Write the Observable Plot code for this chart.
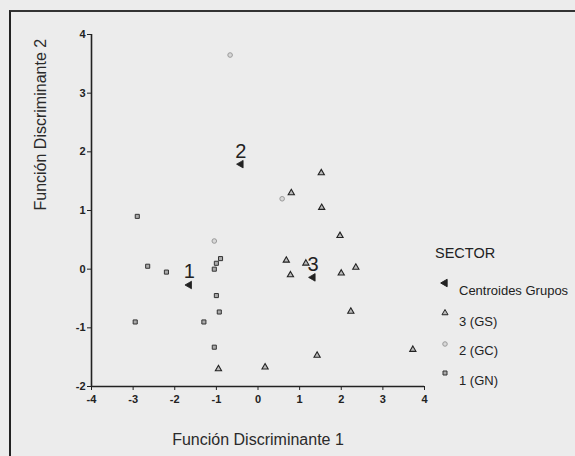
<!DOCTYPE html>
<html><head><meta charset="utf-8">
<script src="https://cdn.jsdelivr.net/npm/d3@7"></script>
<script src="https://cdn.jsdelivr.net/npm/@observablehq/plot@0.6"></script>
<style>
body{margin:0;background:#ececec;font-family:"Liberation Sans",Arial,sans-serif;}
#wrap{position:relative;width:575px;height:456px;overflow:hidden;background:#ececec;}
#border{position:absolute;left:9px;top:10px;width:700px;height:600px;border-left:2px solid #222;border-top:2px solid #333;}
#chart{position:absolute;left:0;top:0;}
#legend{position:absolute;left:0;top:0;width:575px;height:456px;pointer-events:none;}
.lt{position:absolute;color:#222;white-space:nowrap;line-height:1;}
</style></head><body>
<div id="wrap"><div id="border"></div><div id="chart"></div><div id="legend"></div></div>
<script>
// Group 1 (GN)
const gnX = [-2.9, -2.65, -2.2, -2.95, -1.05, -1.0, -0.9, -1.0, -0.93, -1.3, -1.05];
const gnY = [0.9, 0.05, -0.05, -0.9, 0.0, 0.1, 0.18, -0.45, -0.73, -0.9, -1.33];
// Group 2 (GC)
const gcX = [-0.67, -1.05, 0.58];
const gcY = [3.65, 0.48, 1.2];
// Group 3 (GS)
const gsX = [-0.95, 0.17, 1.42, 2.23, 2.0, 2.35, 0.68, 0.78, 1.15, 1.97, 1.52, 0.8, 1.53, 3.72];
const gsY = [-1.7, -1.67, -1.47, -0.72, -0.07, 0.03, 0.15, -0.1, 0.1, 0.57, 1.64, 1.3, 1.05, -1.37];
// Centroids
const centLabels = ["1", "2", "3"];
const centX = [-1.65, -0.41, 1.32];
const centY = [-0.27, 1.79, -0.14];
// Ticks
const xTicks = [-4, -3, -2, -1, 0, 1, 2, 3, 4];
const yTicks = [-2, -1, 0, 1, 2, 3, 4];
const legendTitle = "SECTOR";
const legendLabels = ["Centroides Grupos", "3 (GS)", "2 (GC)", "1 (GN)"];

const gn = gnX.map((x, i) => ({x, y: gnY[i]}));
const gc = gcX.map((x, i) => ({x, y: gcY[i]}));
const gs = gsX.map((x, i) => ({x, y: gsY[i]}));
const cent = centX.map((x, i) => ({x, y: centY[i], label: centLabels[i]}));
const fmt = d => String(d);

const plot = Plot.plot({
  width: 575,
  height: 456,
  marginLeft: 91,
  marginRight: 151,
  marginTop: 34,
  marginBottom: 70,
  style: {background: "transparent", fontFamily: "Liberation Sans, Arial, sans-serif", color: "#222"},
  x: {domain: [-4, 4]},
  y: {domain: [-2, 4]},
  marks: [
    Plot.axisX({ticks: xTicks, tickFormat: fmt, tickSize: 4, tickPadding: 5, fontSize: 11, fontWeight: "bold", label: null, stroke: "#222"}),
    Plot.axisY({ticks: yTicks, tickFormat: fmt, tickSize: 4, tickPadding: 2, fontSize: 11, fontWeight: "bold", label: null, stroke: "#222"}),
    Plot.ruleY([-2], {stroke: "#222", strokeWidth: 1.6}),
    Plot.ruleX([-4], {stroke: "#222", strokeWidth: 1.6}),
    Plot.text(["Función Discriminante 1"], {frameAnchor: "bottom", dy: 58, fontSize: 16, fill: "#2a2a2a"}),
    Plot.text(["Función Discriminante 2"], {frameAnchor: "left", dx: -51, rotate: -90, fontSize: 16, fill: "#2a2a2a"}),
    Plot.dot(gc, {x: "x", y: "y", symbol: "circle", r: 2.3, stroke: "#9a9a9a", fill: "#d8d8d8", strokeWidth: 1}),
    Plot.dot(gn, {x: "x", y: "y", symbol: "square", r: 2.3, stroke: "#333", fill: "#aaa", strokeWidth: 1}),
    Plot.dot(gs, {x: "x", y: "y", symbol: "triangle", r: 2.3, stroke: "#222", fill: "#bbb", strokeWidth: 1.1}),
    Plot.dot(cent, {x: "x", y: "y", symbol: "triangle", rotate: -90, r: 2.8, fill: "#222", stroke: "#222", strokeWidth: 0.8}),
    Plot.text(cent, {x: "x", y: "y", text: "label", dy: -13, fontSize: 20, fill: "#222"})
  ]
});
document.getElementById("chart").appendChild(plot);

// Legend
const leg = document.getElementById("legend");
const t = document.createElement("div");
t.className = "lt";
t.textContent = legendTitle;
t.style.cssText = "left:435px;top:246px;font-size:14.5px;";
leg.appendChild(t);
const symDefs = [
  {type: d3.symbolTriangle, rot: -90, size: 24, fill: "#222", stroke: "#222"},
  {type: d3.symbolTriangle, rot: 0, size: 16, fill: "#bbb", stroke: "#222"},
  {type: d3.symbolCircle, rot: 0, size: 16, fill: "#d8d8d8", stroke: "#9a9a9a"},
  {type: d3.symbolSquare, rot: 0, size: 16, fill: "#aaa", stroke: "#333"}
];
const symY = [283, 313, 344, 373];
const rowY = [290, 321, 350, 380];
legendLabels.forEach((lab, i) => {
  const s = symDefs[i];
  const svg = d3.select(leg).append("svg")
    .attr("width", 14).attr("height", 14)
    .style("position", "absolute").style("left", "438px").style("top", (symY[i] - 7) + "px");
  svg.append("path").attr("d", d3.symbol(s.type, s.size)())
    .attr("transform", `translate(7,7) rotate(${s.rot})`)
    .attr("fill", s.fill).attr("stroke", s.stroke).attr("stroke-width", 1);
  const d = document.createElement("div");
  d.className = "lt";
  d.textContent = lab;
  d.style.cssText = `left:459px;top:${rowY[i] - 6.5}px;font-size:13px;`;
  leg.appendChild(d);
});
</script>
</body></html>
